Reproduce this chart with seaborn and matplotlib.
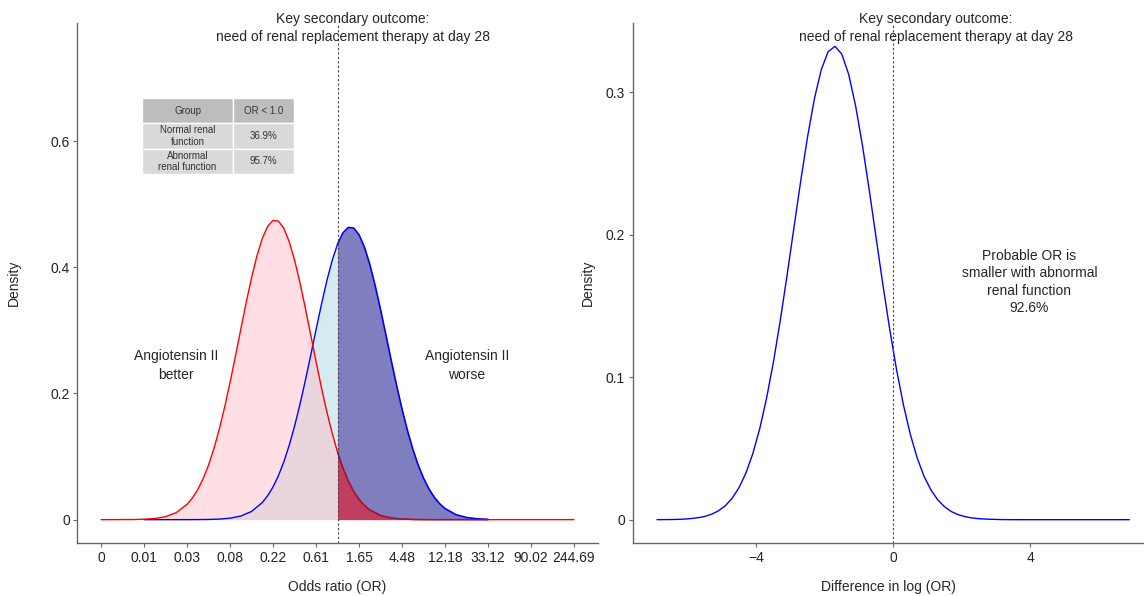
import numpy as np
import pandas as pd
import matplotlib
matplotlib.use("Agg")
import matplotlib.pyplot as plt
import seaborn as sns

# ---------------- data ----------------
# Left panel: posterior densities on log(OR) scale
red_x = [-5.5, -5.25, -5.0, -4.75, -4.5, -4.25, -4.0, -3.75,
         -3.5, -3.375, -3.25, -3.125, -3.0, -2.875, -2.75, -2.625, -2.5, -2.375,
         -2.25, -2.125, -2.0, -1.875, -1.75, -1.625, -1.5, -1.375, -1.25, -1.125,
         -1.0, -0.875, -0.75, -0.625, -0.5, -0.375, -0.25, -0.125, 0.0, 0.125,
         0.25, 0.375, 0.5, 0.625, 0.75,
         1.0, 1.25, 1.5, 1.75, 2.0, 2.25, 2.5, 3.0, 3.5, 4.0, 4.5, 5.0, 5.5]
red_y = [0.0, 0.0, 0.0001, 0.0002, 0.0007, 0.0018, 0.0047, 0.0112,
         0.0242, 0.0344, 0.0478, 0.0651, 0.0866, 0.1127, 0.1434, 0.1786, 0.2175, 0.2591,
         0.3018, 0.3439, 0.3833, 0.4180, 0.4457, 0.4648, 0.4742, 0.4731, 0.4618, 0.4407,
         0.4115, 0.3758, 0.3357, 0.2933, 0.2506, 0.2094, 0.1712, 0.1369, 0.1071, 0.0819,
         0.0613, 0.0448, 0.0321, 0.0225, 0.0154,
         0.0067, 0.0027, 0.0010, 0.0003, 0.0001, 0.0, 0.0, 0.0, 0.0, 0.0, 0.0, 0.0, 0.0]

blue_x = [-4.5, -4.25, -4.0, -3.75, -3.5, -3.25, -3.0, -2.75, -2.5, -2.25, -2.0,
          -1.75, -1.625, -1.5, -1.375, -1.25, -1.125, -1.0, -0.875, -0.75, -0.625,
          -0.5, -0.375, -0.25, -0.125, 0.0, 0.125, 0.25, 0.375, 0.5, 0.625, 0.75,
          0.875, 1.0, 1.125, 1.25, 1.375, 1.5, 1.625, 1.75, 1.875, 2.0, 2.125,
          2.25, 2.375, 2.5, 2.75, 3.0, 3.25, 3.5]
blue_y = [0.0, 0.0, 0.0, 0.0, 0.0, 0.0001, 0.0003, 0.0009, 0.0023, 0.0057, 0.0130,
          0.0271, 0.0379, 0.0519, 0.0696, 0.0914, 0.1176, 0.1480, 0.1824, 0.2201, 0.2601,
          0.3010, 0.3409, 0.3781, 0.4106, 0.4365, 0.4544, 0.4631, 0.4621, 0.4515, 0.4319, 0.4046,
          0.3710, 0.3331, 0.2928, 0.2520, 0.2124, 0.1753, 0.1416, 0.1120, 0.0867, 0.0658, 0.0488,
          0.0355, 0.0253, 0.0176, 0.0080, 0.0034, 0.0013, 0.0005]

# Right panel: density of difference in log(OR)
diff_x = [-6.9, -6.5, -6.3, -6.1, -5.9, -5.7, -5.5, -5.3, -5.1, -4.9, -4.7, -4.5,
          -4.3, -4.1, -3.9, -3.7, -3.5,
          -3.3, -3.1, -2.9, -2.7, -2.5, -2.3, -2.1, -1.9, -1.7, -1.5, -1.3, -1.1,
          -0.9, -0.7, -0.5, -0.3, -0.1, 0.1, 0.3, 0.5, 0.7, 0.9, 1.1, 1.3, 1.5, 1.7,
          1.9, 2.1, 2.3, 2.5, 2.7, 3.1, 3.5, 3.9, 4.3, 4.7, 5.1, 5.5, 5.9, 6.3, 6.7, 6.9]
diff_y = [0.0, 0.0001, 0.0002, 0.0004, 0.0008, 0.0014, 0.0023, 0.0039, 0.0063, 0.0099,
          0.0152, 0.0227, 0.0329, 0.0465, 0.0638, 0.0852, 0.1106,
          0.1397, 0.1716, 0.2050, 0.2381, 0.2691, 0.2958, 0.3161, 0.3287,
          0.3324, 0.3269, 0.3127, 0.2909, 0.2632, 0.2316, 0.1982, 0.1650, 0.1336, 0.1052,
          0.0806, 0.0600, 0.0435, 0.0306, 0.0210, 0.0140, 0.0091, 0.0057,
          0.0035, 0.0021, 0.0012, 0.0007, 0.0004, 0.0001,
          0.0, 0.0, 0.0, 0.0, 0.0, 0.0, 0.0, 0.0, 0.0, 0.0]

or_tick_labels = ["0", "0.01", "0.03", "0.08", "0.22", "0.61", "1.65", "4.48",
                  "12.18", "33.12", "90.02", "244.69"]
left_yticks = [0, 0.2, 0.4, 0.6]
left_yticklabels = ["0", "0.2", "0.4", "0.6"]
right_xticks = [-4, 0, 4]
right_xticklabels = ["\u22124", "0", "4"]
right_yticks = [0, 0.1, 0.2, 0.3]
right_yticklabels = ["0", "0.1", "0.2", "0.3"]

table_header = ["Group", "OR < 1.0"]
table_rows = [["Normal renal\nfunction", "36.9%"],
              ["Abnormal\nrenal function", "95.7%"]]

title_text = "Key secondary outcome:\nneed of renal replacement therapy at day 28"

# ---------------- style ----------------
sns.set_style("white")
plt.rcParams['font.family'] = ['Liberation Sans', 'DejaVu Sans']
FS = 10
spine_col = "#666666"
tick_col = "#222222"

fig = plt.figure(figsize=(11.44, 5.96), dpi=100)
ax1 = fig.add_axes([0.0677, 0.0884, 0.4547, 0.8735])
ax2 = fig.add_axes([0.5531, 0.0884, 0.4469, 0.8735])

red = pd.DataFrame({"x": red_x, "y": red_y})
blue = pd.DataFrame({"x": blue_x, "y": blue_y})
diff = pd.DataFrame({"x": diff_x, "y": diff_y})

rx, ry = red["x"].to_numpy(), red["y"].to_numpy()
bx, by = blue["x"].to_numpy(), blue["y"].to_numpy()

# blue (normal renal function) left of OR=1
ax1.fill_between(bx, 0, by, where=bx <= 0, color="lightblue", alpha=0.5, lw=0)
sns.lineplot(data=blue[blue.x <= 0], x="x", y="y", ax=ax1, color="blue", lw=1.0, sort=True)
# red (abnormal renal function) left of OR=1
ax1.fill_between(rx, 0, ry, where=rx <= 0, color="pink", alpha=0.5, lw=0)
sns.lineplot(data=red, x="x", y="y", ax=ax1, color="red", lw=1.0, sort=True)
# blue right of OR=1
ax1.fill_between(bx, 0, by, where=bx >= 0, color="navy", alpha=0.5, lw=0)
sns.lineplot(data=blue[blue.x >= 0], x="x", y="y", ax=ax1, color="blue", lw=1.2, sort=True)
# red right of OR=1
ax1.fill_between(rx, 0, ry, where=rx >= 0, color="red", alpha=0.5, lw=0)
sns.lineplot(data=red[(red.x >= 0) & (red.x <= 3.5)], x="x", y="y", ax=ax1,
             color="#8b1a45", lw=1.0, sort=True)

ax1.axvline(0, color="#444444", lw=0.8, ls=(0, (2, 2)))

ax1.set_xlim(-6.05, 6.05)
ax1.set_ylim(-0.0375, 0.7875)
ax1.set_xticks(np.arange(-5.5, 6.0, 1.0))
ax1.set_xticklabels(or_tick_labels)
ax1.set_yticks(left_yticks)
ax1.set_yticklabels(left_yticklabels)
ax1.set_xlabel("Odds ratio (OR)", fontsize=FS, labelpad=11)
ax1.set_ylabel("Density", fontsize=FS, labelpad=21)

ax1.text(-3.756, 0.244, "Angiotensin II\nbetter", ha="center", va="center",
         fontsize=FS, linespacing=1.4)
ax1.text(3.01, 0.244, "Angiotensin II\nworse", ha="center", va="center",
         fontsize=FS, linespacing=1.4)

# table inset
tbl = ax1.table(cellText=table_rows, colLabels=table_header, cellLoc="center",
                colWidths=[0.6, 0.4], bbox=[0.124, 0.7094, 0.292, 0.146])
tbl.auto_set_font_size(False)
for (r, c), cell in tbl.get_celld().items():
    cell.set_edgecolor("white")
    cell.set_linewidth(1.0)
    cell.set_facecolor("#bdbdbd" if r == 0 else "#d9d9d9")
    cell.get_text().set_fontsize(7)
    cell.get_text().set_color("#333333")

# right panel
sns.lineplot(data=diff, x="x", y="y", ax=ax2, color="blue", lw=1.0, sort=True)
ax2.axvline(0, color="#444444", lw=0.8, ls=(0, (2, 2)))
ax2.set_xlim(-7.61, 7.33)
ax2.set_ylim(-0.0166, 0.349)
ax2.set_xticks(right_xticks)
ax2.set_xticklabels(right_xticklabels)
ax2.set_yticks(right_yticks)
ax2.set_yticklabels(right_yticklabels)
ax2.set_xlabel("Difference in log (OR)", fontsize=FS, labelpad=11)
ax2.set_ylabel("Density", fontsize=FS, labelpad=8)
ax2.text(3.98, 0.167, "Probable OR is\nsmaller with abnormal\nrenal function\n92.6%",
         ha="center", va="center", fontsize=FS, linespacing=1.3)

for ax in (ax1, ax2):
    for s in ("top", "right"):
        ax.spines[s].set_visible(False)
    for s in ("left", "bottom"):
        ax.spines[s].set_color(spine_col)
        ax.spines[s].set_linewidth(1.0)
    ax.tick_params(axis="both", which="major", length=3, width=0.8, color=spine_col,
                   labelsize=FS, labelcolor=tick_col, pad=2.5, bottom=True, left=True)
    ax.grid(False)

fig.text(353 / 1144, 1 - 28 / 596, title_text, ha="center", va="center",
         fontsize=FS, linespacing=1.45)
fig.text(936 / 1144, 1 - 28 / 596, title_text, ha="center", va="center",
         fontsize=FS, linespacing=1.45)

fig.savefig("out.png", dpi=100)
